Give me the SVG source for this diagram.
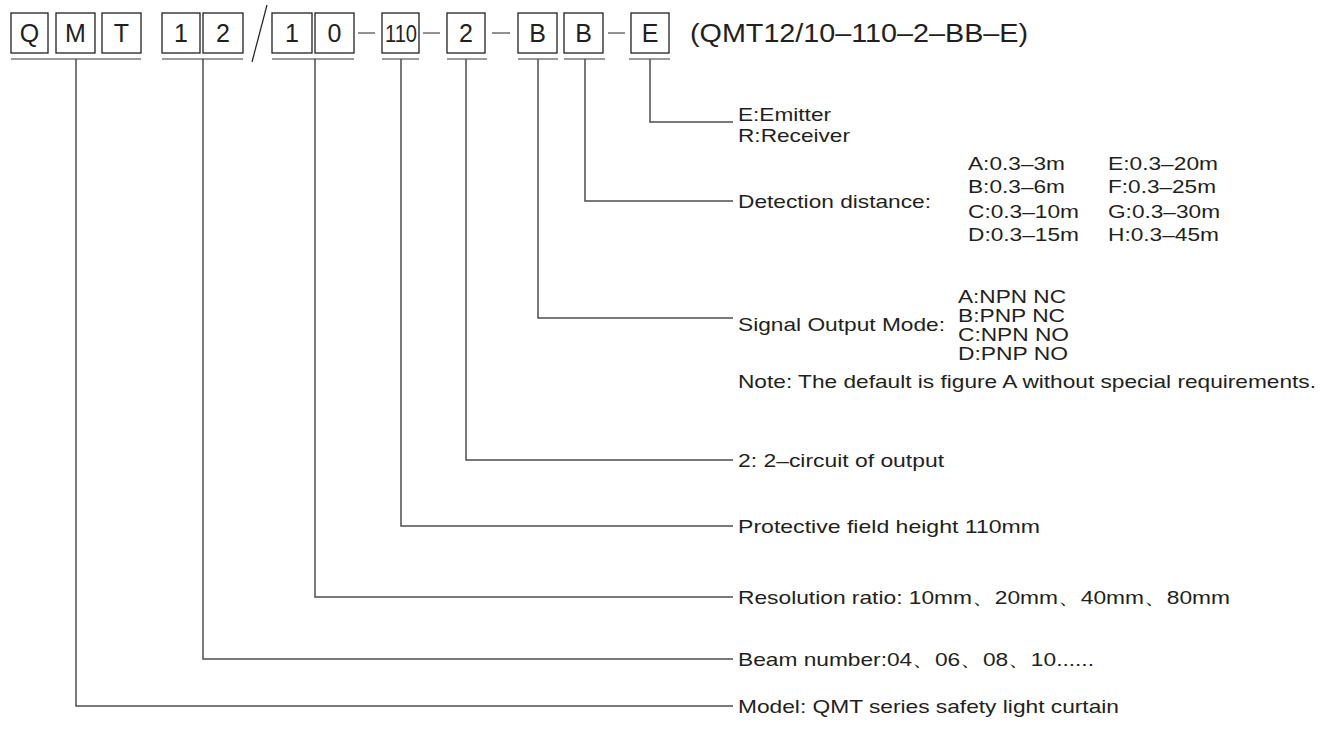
<svg xmlns="http://www.w3.org/2000/svg" width="1326" height="740" viewBox="0 0 1326 740">
<style>
.bx{fill:none;stroke:#231f20;stroke-width:1.3}
.bt{font-family:"Liberation Sans",Arial,sans-serif;font-size:25px;fill:#231f20;text-anchor:middle}
.ul{stroke:#7a7a7a;stroke-width:1.6;fill:none}
.cn{stroke:#4d4d4d;stroke-width:1.5;fill:none}
.dash{stroke:#555;stroke-width:1.3}
.lb{font-family:"Liberation Sans",Arial,sans-serif;font-size:19px;fill:#231f20}
.pt{font-family:"Liberation Sans",Arial,sans-serif;font-size:25px;fill:#231f20}
</style>
<rect width="1326" height="740" fill="#fff"/>
<g id="code">
<rect class="bx" x="11" y="13" width="37" height="40"/><text class="bt" x="29.5" y="42">Q</text>
<rect class="bx" x="56" y="13" width="39" height="40"/><text class="bt" x="75.5" y="42">M</text>
<rect class="bx" x="102" y="13" width="39" height="40"/><text class="bt" x="121.5" y="42">T</text>
<rect class="bx" x="162" y="13" width="38" height="40"/><text class="bt" x="181" y="42">1</text>
<rect class="bx" x="203" y="13" width="40" height="40"/><text class="bt" x="223" y="42">2</text>
<line x1="267" y1="5" x2="252" y2="62" stroke="#231f20" stroke-width="1.2"/>
<rect class="bx" x="272" y="13" width="40" height="40"/><text class="bt" x="292" y="42">1</text>
<rect class="bx" x="315" y="13" width="39" height="40"/><text class="bt" x="334.5" y="42">0</text>
<line class="dash" x1="358" y1="33" x2="375" y2="33"/>
<rect class="bx" x="382" y="13" width="37" height="40"/><text class="bt" x="401" y="42" style="font-size:23px" textLength="32" lengthAdjust="spacingAndGlyphs">110</text>
<line class="dash" x1="423" y1="33" x2="440" y2="33"/>
<rect class="bx" x="447" y="13" width="38" height="40"/><text class="bt" x="466" y="42">2</text>
<line class="dash" x1="492" y1="33" x2="510" y2="33"/>
<rect class="bx" x="518" y="13" width="39" height="40"/><text class="bt" x="537.5" y="42">B</text>
<rect class="bx" x="564" y="13" width="39" height="40"/><text class="bt" x="583.5" y="42">B</text>
<line class="dash" x1="608" y1="33" x2="625" y2="33"/>
<rect class="bx" x="631" y="13" width="38" height="40"/><text class="bt" x="650" y="42">E</text>
<text class="pt" x="690" y="42" textLength="338" lengthAdjust="spacingAndGlyphs">(QMT12/10–110–2–BB–E)</text>
</g>
<g id="underlines">
<line class="ul" x1="11" y1="59" x2="141" y2="59"/>
<line class="ul" x1="162" y1="59" x2="243" y2="59"/>
<line class="ul" x1="272" y1="59" x2="354" y2="59"/>
<line class="ul" x1="382" y1="59" x2="419" y2="59"/>
<line class="ul" x1="447" y1="59" x2="487" y2="59"/>
<line class="ul" x1="518" y1="59" x2="558" y2="59"/>
<line class="ul" x1="564" y1="59" x2="605" y2="59"/>
<line class="ul" x1="629" y1="59" x2="670" y2="59"/>
</g>
<g id="connectors">
<path class="cn" d="M650 59V122H733"/>
<path class="cn" d="M585 59V201H733"/>
<path class="cn" d="M538 59V318H733"/>
<path class="cn" d="M466 59V460H733"/>
<path class="cn" d="M401 59V526H733"/>
<path class="cn" d="M315 59V597H733"/>
<path class="cn" d="M203 59V659H733"/>
<path class="cn" d="M76 59V706H733"/>
</g>
<g id="emitter">
<text class="lb" x="738" y="121" textLength="93" lengthAdjust="spacingAndGlyphs">E:Emitter</text>
<text class="lb" x="738" y="142" textLength="112" lengthAdjust="spacingAndGlyphs">R:Receiver</text>
</g>
<g id="distance">
<text class="lb" x="738" y="208" textLength="193" lengthAdjust="spacingAndGlyphs">Detection distance:</text>
<text class="lb" x="968" y="170" textLength="97" lengthAdjust="spacingAndGlyphs">A:0.3–3m</text>
<text class="lb" x="968" y="193" textLength="97" lengthAdjust="spacingAndGlyphs">B:0.3–6m</text>
<text class="lb" x="968" y="218" textLength="111" lengthAdjust="spacingAndGlyphs">C:0.3–10m</text>
<text class="lb" x="968" y="241" textLength="111" lengthAdjust="spacingAndGlyphs">D:0.3–15m</text>
<text class="lb" x="1108" y="170" textLength="110" lengthAdjust="spacingAndGlyphs">E:0.3–20m</text>
<text class="lb" x="1108" y="193" textLength="108" lengthAdjust="spacingAndGlyphs">F:0.3–25m</text>
<text class="lb" x="1108" y="218" textLength="112" lengthAdjust="spacingAndGlyphs">G:0.3–30m</text>
<text class="lb" x="1108" y="241" textLength="111" lengthAdjust="spacingAndGlyphs">H:0.3–45m</text>
</g>
<g id="output">
<text class="lb" x="738" y="331" textLength="207" lengthAdjust="spacingAndGlyphs">Signal Output Mode:</text>
<text class="lb" x="958" y="303" textLength="108" lengthAdjust="spacingAndGlyphs">A:NPN NC</text>
<text class="lb" x="958" y="322" textLength="107" lengthAdjust="spacingAndGlyphs">B:PNP NC</text>
<text class="lb" x="958" y="341" textLength="111" lengthAdjust="spacingAndGlyphs">C:NPN NO</text>
<text class="lb" x="958" y="360" textLength="110" lengthAdjust="spacingAndGlyphs">D:PNP NO</text>
<text class="lb" x="738" y="388" textLength="578" lengthAdjust="spacingAndGlyphs">Note: The default is figure A without special requirements.</text>
</g>
<g id="circuit"><text class="lb" x="738" y="467" textLength="206" lengthAdjust="spacingAndGlyphs">2: 2–circuit of output</text></g>
<g id="height"><text class="lb" x="738" y="533" textLength="302" lengthAdjust="spacingAndGlyphs">Protective field height 110mm</text></g>
<g id="resolution"><text class="lb" x="738" y="604" textLength="492" lengthAdjust="spacingAndGlyphs">Resolution ratio: 10mm、20mm、40mm、80mm</text></g>
<g id="beam"><text class="lb" x="738" y="666" textLength="356" lengthAdjust="spacingAndGlyphs">Beam number:04、06、08、10......</text></g>
<g id="model"><text class="lb" x="738" y="713" textLength="381" lengthAdjust="spacingAndGlyphs">Model: QMT series safety light curtain</text></g>
</svg>
